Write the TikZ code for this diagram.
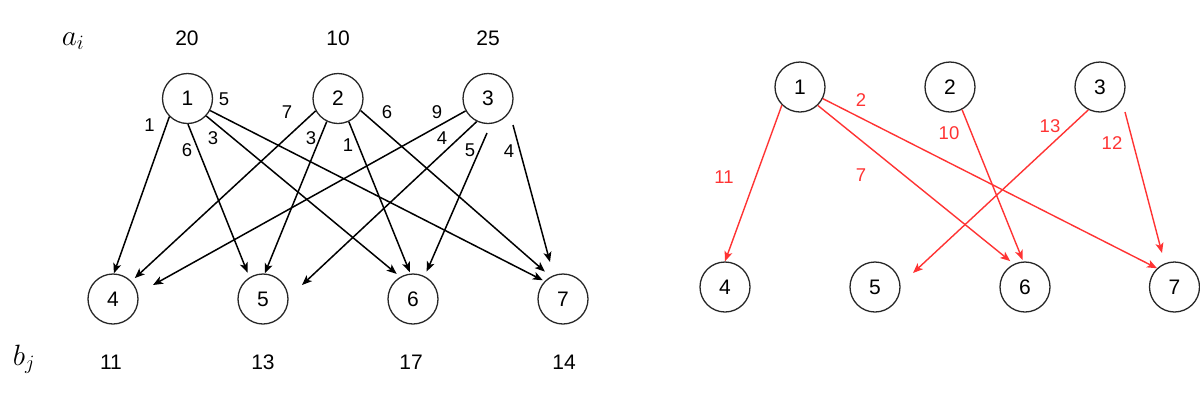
\documentclass[tikz,border=0pt]{standalone}
\usepackage{graphicx}
\usepackage{fontspec}
\setmainfont{Liberation Sans}
\usetikzlibrary{arrows.meta}
\definecolor{redc}{RGB}{255,51,51}
\begin{document}
\begin{tikzpicture}[x=1pt,y=-1pt,
 vert/.style={draw=black!85,circle,line width=1.3pt,minimum size=50pt,inner sep=0pt,font=\fontsize{21}{24}\selectfont},
 elab/.style={inner sep=0pt,font=\fontsize{18.5}{21}\selectfont},
 rlab/.style={elab,text=redc},
 hlab/.style={inner sep=0pt,font=\fontsize{21}{24}\selectfont},
 mlab/.style={inner sep=0pt,font=\fontsize{24}{28}\selectfont},
 edge/.style={line width=1.5pt,-{Stealth[length=10pt,width=8pt,inset=2.5pt]}},
 redge/.style={edge,draw=redc,line width=1.4pt}]
\useasboundingbox (0,0) rectangle (1200,400);
% headers
\node[mlab] (ai) at (73,41) {\scalebox{1.18}{$a_i$}};
\node[hlab] (a1) at (187,38) {20};
\node[hlab] (a2) at (338,38) {10};
\node[hlab] (a3) at (488,38) {25};
\node[mlab] (bj) at (24,359) {\scalebox{1.18}{$b_j$}};
\node[hlab] (b4) at (111,362) {11};
\node[hlab] (b5) at (263,362) {13};
\node[hlab] (b6) at (411,362) {17};
\node[hlab] (b7) at (564,362) {14};
% left graph nodes
\node[vert] (L1) at (187.5,98.5) {1};
\node[vert] (L2) at (338,98.5) {2};
\node[vert] (L3) at (488,98.5) {3};
\node[vert] (L4) at (113,299) {4};
\node[vert] (L5) at (263,299) {5};
\node[vert] (L6) at (413,299) {6};
\node[vert] (L7) at (563,299) {7};
\coordinate (t34) at (153,285);
\coordinate (t35) at (302,285);
\coordinate (s36) at (487,133);
\coordinate (s37) at (513,125);
\coordinate (t37) at (550,262);
% left edges
\draw[edge] (L1.-135) -- (L4.88);
\draw[edge,shorten >=5pt] (L1.-89) -- (L5.122);
\draw[edge,shorten >=4.5pt] (L1.-43.5) -- (L6.120);
\draw[edge,shorten >=2pt] (L1.-28) -- (L7.136);
\draw[edge,shorten >=4.5pt] (L2.-151) -- (L4.44);
\draw[edge] (L2.-116) -- (L5.86);
\draw[edge,shorten >=1.5pt] (L2.-65.6) -- (L6.96);
\draw[edge,shorten >=7.5pt] (L2.-28) -- (L7.119);
\draw[edge] (L3.-151) -- (t34);
\draw[edge] (L3.-116) -- (t35);
\draw[edge,shorten >=5pt] (s36) -- (L6.63);
\draw[edge] (s37) -- (t37);
% left edge labels
\node[elab] (c14) at (149.5,125.5) {1};
\node[elab] (c17) at (224,99.5) {5};
\node[elab] (c15) at (187,150) {6};
\node[elab] (c16) at (213,138) {3};
\node[elab] (c24) at (287,112.5) {7};
\node[elab] (c25) at (311,138) {3};
\node[elab] (c26) at (348,145) {1};
\node[elab] (c27) at (387,112.5) {6};
\node[elab] (c34) at (437,112) {9};
\node[elab] (c35) at (442,138) {4};
\node[elab] (c36) at (470,150) {5};
\node[elab] (c37) at (509,151) {4};
% right graph nodes
\node[vert] (R1) at (800,87) {1};
\node[vert] (R2) at (950,87) {2};
\node[vert] (R3) at (1100,87) {3};
\node[vert] (R4) at (725,287) {4};
\node[vert] (R5) at (875,287) {5};
\node[vert] (R6) at (1025,287) {6};
\node[vert] (R7) at (1174.5,287) {7};
\coordinate (u35) at (913,273);
\coordinate (v37) at (1125,112);
\coordinate (u37) at (1162,253);
% right edges
\draw[redge] (R1.-135) -- (R4.90);
\draw[redge,shorten >=4.5pt] (R1.-46.5) -- (R6.116);
\draw[redge] (R1.-27.5) -- (R7.133.5);
\draw[redge,shorten >=1.5pt] (R2.-62.5) -- (R6.94);
\draw[redge] (R3.-117.5) -- (u35);
\draw[redge] (v37) -- (u37);
% right edge labels
\node[rlab] (d14) at (724,177) {11};
\node[rlab] (d16) at (861,175) {7};
\node[rlab] (d17) at (861,100) {2};
\node[rlab] (d26) at (949,133) {10};
\node[rlab] (d35) at (1050,126) {13};
\node[rlab] (d37) at (1112,143) {12};
\end{tikzpicture}
\end{document}
